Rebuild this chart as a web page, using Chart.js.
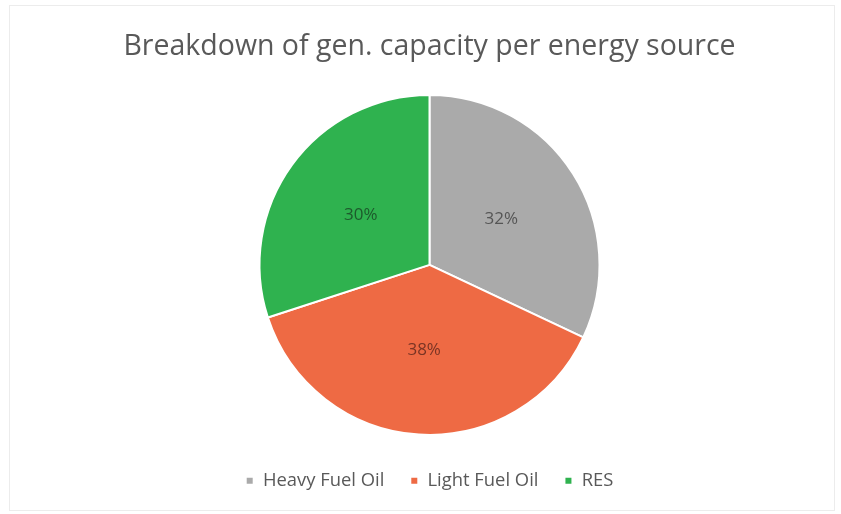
<!DOCTYPE html>
<html>
<head>
<meta charset="utf-8">
<script src="https://cdn.jsdelivr.net/npm/chart.js@4/dist/chart.umd.min.js"></script>
<style>
  html, body { margin: 0; padding: 0; background: #ffffff; }
  #frame {
    position: absolute; left: 9px; top: 5px; width: 826px; height: 506px;
    border: 1px solid #ececec; box-sizing: border-box;
  }
  #wrap { position: absolute; left: 18px; top: 7px; width: 823px; height: 500px; }
</style>
</head>
<body>
<div id="frame"></div>
<div id="wrap"><canvas id="pieChart"></canvas></div>
<script>
// -------------------- Data --------------------
const titleText = "Breakdown of gen. capacity per energy source";
const sources = ["Heavy Fuel Oil", "Light Fuel Oil", "RES"];
const shares = [32, 38, 30];
const sliceColors = ["#aaaaaa", "#ee6a44", "#2fb24f"];
const labelColors = ["#555555", "#7a3424", "#1d5a2c"];


// -------------------- Percent labels inside slices --------------------
const sliceLabels = {
  id: "sliceLabels",
  afterDatasetsDraw(chart) {
    const ctx = chart.ctx;
    const meta = chart.getDatasetMeta(0);
    const total = shares.reduce((a, b) => a + b, 0);
    ctx.save();
    ctx.font = "17px 'Open Sans', sans-serif";
    ctx.textAlign = "center";
    ctx.textBaseline = "middle";
    meta.data.forEach((arc, i) => {
      const pos = arc.tooltipPosition();
      ctx.fillStyle = labelColors[i];
      ctx.fillText(Math.round(shares[i] / total * 100) + "%", pos.x, pos.y);
    });
    ctx.restore();
  }
};


// -------------------- Chart --------------------
const ctx = document.getElementById("pieChart").getContext("2d");

new Chart(ctx, {
  type: "pie",
  data: {
    labels: sources,
    datasets: [{
      data: shares,
      backgroundColor: sliceColors,
      borderColor: "#ffffff",
      borderWidth: 2,
      radius: 170
    }]
  },
  options: {
    responsive: true,
    maintainAspectRatio: false,
    animation: false,
    layout: { padding: { bottom: 7 } },
    plugins: {
      title: {
        display: true,
        text: titleText,
        color: "#595959",
        font: { family: "'Open Sans', sans-serif", size: 28.5, weight: "normal" },
        padding: { top: 23, bottom: 20 }
      },
      legend: {
        position: "bottom",
        labels: {
          color: "#595959",
          font: { family: "'Open Sans', sans-serif", size: 18.4 },
          boxWidth: 8,
          boxHeight: 8,
          padding: 26
        }
      },
      tooltip: { enabled: false }
    }
  },
  plugins: [sliceLabels]
});
</script>
</body>
</html>
